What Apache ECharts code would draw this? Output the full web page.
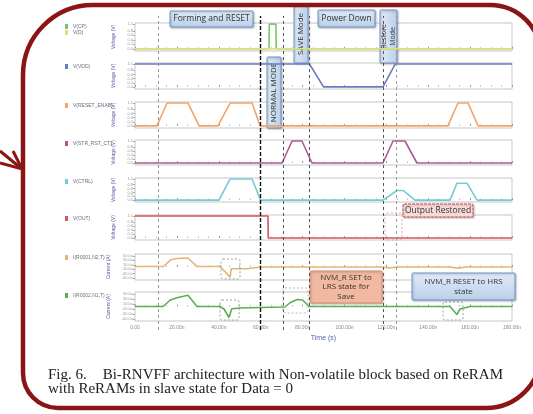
<!DOCTYPE html>
<html>
<head>
<meta charset="utf-8">
<script src="https://cdn.jsdelivr.net/npm/echarts@6/dist/echarts.min.js"></script>
<style>
html, body { margin: 0; padding: 0; background: #fff; }
#main { width: 533px; height: 414px; }
</style>
</head>
<body>
<div id="main"></div>
<script>
// 时间轴 (ns)
var timeMin = 0, timeMax = 180, timeStep = 20;
var voltTicks = [0, 0.2, 0.4, 0.6, 0.8, 1.1];
var currTicks = [-50, -30, -10, 10, 30, 50];

// 各信号波形 [时间, 值]
var vCP = [[0, 0], [64, 0], [64.1, 1.1], [67.3, 1.1], [67.4, 0], [180, 0]];
var vD = [[0, 0], [180, 0]];
var vVDD = [[0, 1.1], [83.3, 1.1], [90, 0], [118.4, 0], [124.2, 1.1], [180, 1.1]];
var vReset = [[0, 0], [10.5, 0], [15.3, 1.1], [25.3, 1.1], [30.6, 0], [39.6, 0], [45.4, 1.1], [55.9, 1.1], [59.7, 0],
  [149.4, 0], [154.2, 1.1], [159, 1.1], [163.8, 0], [180, 0]];
var vStr = [[0, 0], [70.2, 0], [75, 1.1], [79.7, 1.1], [84.5, 0], [118.4, 0], [123.2, 1.1], [128.9, 1.1], [134.6, 0], [180, 0]];
var vCtrl = [[0, 0], [40.1, 0], [45.4, 1.1], [55.9, 1.1], [59.9, 0], [118.4, 0], [125.1, 0.5], [128, 0.5], [133.7, 0],
  [150.4, 0], [153.7, 0.88], [158.5, 0.88], [163.3, 0], [180, 0]];
var vOut = [[0, 1.1], [63.5, 1.1], [63.6, 0], [180, 0]];
var iR1 = [[0, 2], [13.4, 2], [15, 14], [17, 32], [20, 38], [25.3, 40], [29.6, 2], [40.6, 2], [45.4, -45], [46, -8],
  [53.5, -8], [60, 0], [118, 0], [121, -4], [126, 0], [150, 0], [154, -5], [158, 0], [180, 0]];
var iR2 = [[0, 0], [13.4, 0], [16.7, 25], [20, 35], [25.3, 45], [29.6, 0], [40.6, 0], [42.5, -10], [44.9, -44], [46.2, -9],
  [50, -6], [60, -4], [71.6, -2], [74, 15], [77.4, 28], [80, 26], [83.1, 0], [150.4, 0], [153.7, -32], [155.2, -10],
  [160, 0], [180, 0]];

// 模式切换的竖虚线位置
var phaseTimes = [11, 59.7, 70.9, 83.1, 118.4, 124.6];

var panels = [
  { names: ["V(CP)", "V(D)"], data: [vCP, vD], colors: ["#7cc46f", "#e3e07a"], kind: "v" },
  { names: ["V(VDD)"], data: [vVDD], colors: ["#6a7cc0"], kind: "v" },
  { names: ["V(RESET_ENAB)"], data: [vReset], colors: ["#f4a466"], kind: "v" },
  { names: ["V(STR_RST_CT)"], data: [vStr], colors: ["#ad5a92"], kind: "v" },
  { names: ["V(CTRL)"], data: [vCtrl], colors: ["#72cbd6"], kind: "v" },
  { names: ["V(OUT)"], data: [vOut], colors: ["#cf5858"], kind: "v" },
  { names: ["I(R0001,N2,T)"], data: [iR1], colors: ["#e2b676"], kind: "i" },
  { names: ["I(R0002,N1,T)"], data: [iR2], colors: ["#5cae55"], kind: "i" }
];

var tops = [23, 63, 102, 140, 178, 215, 254, 292];
var heights = [28, 26, 26, 25, 24, 25, 26, 29];

var myChart = echarts.init(document.getElementById("main"));

var grid = [], xAxis = [], yAxis = [], series = [], legend = [];
panels.forEach(function (p, i) {
  var last = i === panels.length - 1;
  grid.push({ left: 135, right: 21, top: tops[i], height: heights[i], show: true, borderColor: "#c6c6c6", borderWidth: 1 });
  xAxis.push({
    type: "value", gridIndex: i, min: timeMin, max: timeMax, interval: timeStep,
    axisLine: { show: false },
    splitLine: { show: false },
    axisTick: { show: true, inside: true, length: 2, lineStyle: { color: "#999" } },
    minorTick: { show: true, splitNumber: 4, length: 1.5, lineStyle: { color: "#bbb" } },
    axisLabel: {
      show: last, fontSize: 5, color: "#888", margin: 4,
      formatter: function (v) { return v === 0 ? "0.00" : v.toFixed(2) + "n"; }
    },
    name: last ? "Time (s)" : "",
    nameLocation: "middle", nameGap: 14,
    nameTextStyle: { fontSize: 7, color: "#5a62b0" }
  });
  var ticks = p.kind === "v" ? voltTicks : currTicks;
  yAxis.push({
    type: "value", gridIndex: i,
    min: p.kind === "v" ? -0.1 : -58,
    max: p.kind === "v" ? 1.15 : 58,
    axisLine: { show: false },
    splitLine: { show: false },
    axisTick: { show: true, length: 2, customValues: ticks, lineStyle: { color: "#aaa" } },
    axisLabel: {
      fontSize: 4, color: "#999", margin: 2, customValues: ticks,
      formatter: function (v) { return p.kind === "v" ? v.toFixed(1) : v.toFixed(1) + "u"; }
    },
    name: p.kind === "v" ? "Voltage (V)" : "Current (A)",
    nameLocation: "middle", nameGap: 16,
    nameTextStyle: { fontSize: 5, color: "#5a5ea8" }
  });
  legend.push({
    left: 60, top: tops[i] - 4, orient: "vertical", icon: "rect",
    itemWidth: 3, itemHeight: 5, itemGap: 1,
    data: p.names,
    textStyle: { fontSize: 5, color: "#6a6a80" }
  });
  p.names.forEach(function (n, j) {
    series.push({
      name: n, type: "line", xAxisIndex: i, yAxisIndex: i,
      data: p.data[j], symbol: "none",
      lineStyle: { width: 1.6, color: p.colors[j] },
      itemStyle: { color: p.colors[j] }
    });
  });
});

// 覆盖层: 贯穿全部面板的竖虚线
grid.push({ left: 135, right: 21, top: 16, height: 314, show: false });
xAxis.push({ type: "value", gridIndex: 8, min: timeMin, max: timeMax, show: false });
yAxis.push({ type: "value", gridIndex: 8, min: 0, max: 1, show: false });
series.push({
  type: "line", xAxisIndex: 8, yAxisIndex: 8, data: [[0, -1]], symbol: "none", silent: true,
  lineStyle: { opacity: 0 },
  markLine: {
    silent: true, symbol: "none", label: { show: false },
    data: phaseTimes.map(function (t, k) {
      return {
        xAxis: t,
        lineStyle: k === 1
          ? { color: "#111", type: [4, 2], width: 1.4 }
          : { color: k === 0 || k === 5 ? "#999" : "#555", type: [3, 3], width: 1 }
      };
    })
  }
});

// 说明框
function box(x, y, w, h, text, fill, stroke, rot, fs, dash) {
  return {
    type: "group", x: x, y: y, z: 100,
    children: [
      { type: "rect", shape: { x: 0, y: 0, width: w, height: h, r: 1 },
        style: { fill: fill, stroke: stroke, lineWidth: 1, lineDash: dash || null,
          shadowBlur: 2, shadowColor: "rgba(0,0,0,0.25)", shadowOffsetX: 1, shadowOffsetY: 1 } },
      { type: "text", x: w / 2, y: h / 2, rotation: rot ? Math.PI / 2 : 0,
        style: { text: text, align: "center", verticalAlign: "middle", fill: "#333",
          font: (fs || 8.5) + "px 'Open Sans'", lineHeight: (fs || 8.5) + 1.5 } }
    ]
  };
}
function dashBox(x, y, w, h, color) {
  return { type: "rect", z: 90, shape: { x: x, y: y, width: w, height: h, r: 2 },
    style: { fill: "none", stroke: color || "#888", lineWidth: 0.8, lineDash: [2, 2] } };
}

var blueFill = new echarts.graphic.LinearGradient(0, 0, 0, 1, [
  { offset: 0, color: "#e2ecf8" }, { offset: 1, color: "#b9cfe9" }]);
var blueFillV = new echarts.graphic.LinearGradient(0, 0, 1, 0, [
  { offset: 0, color: "#e2ecf8" }, { offset: 1, color: "#b9cfe9" }]);

var captionFont = "15px 'Liberation Serif'";
var graphic = [
  { type: "rect", z: 80, shape: { x: 23, y: 5, width: 518, height: 403, r: [70, 51, 55, 35] },
    style: { fill: "none", stroke: "#8b1515", lineWidth: 4.5 } },
  { type: "polyline", z: 80, shape: { points: [[0, 151], [22, 169]] }, style: { stroke: "#8b1515", lineWidth: 3, fill: "none" } },
  { type: "polyline", z: 80, shape: { points: [[13, 151], [22, 169], [0, 163]] }, style: { stroke: "#8b1515", lineWidth: 3, fill: "none" } },
  box(170, 11, 83, 16, "Forming and RESET", blueFill, "#6f93c6"),
  box(318, 10, 57, 17, "Power Down", blueFill, "#6f93c6"),
  box(294, 5, 14, 58, "SAVE Mode", blueFillV, "#6f93c6", true, 8),
  box(380, 10, 17, 53, "Restore\nMode", blueFillV, "#6f93c6", true, 7),
  box(267, 57, 14, 71, "NORMAL MODE", blueFillV, "#6f93c6", true, 8),
  box(403, 204, 70, 13, "Output Restored", "#f7dada", "#c84848", false, 8.5, [3, 1]),
  box(310, 271, 72, 32, "NVM_R SET to\nLRS state for\nSave", "#f2b9a2", "#e08a6a", false, 8),
  box(412, 273, 103, 27, "NVM_R RESET to HRS\nstate", blueFill, "#6f93c6", false, 8),
  dashBox(221, 259, 19, 20),
  dashBox(220, 300, 19, 20),
  dashBox(283, 288, 25, 25, "#aaa"),
  dashBox(443, 302, 20, 18),
  dashBox(385, 213, 17, 27, "#e09090"),
  { type: "text", z: 100, x: 48, y: 368,
    style: { text: "Fig. 6.", font: captionFont, fill: "#222" } },
  { type: "text", z: 100, x: 503, y: 368,
    style: { text: "Bi-RNVFF architecture with Non-volatile block based on ReRAM", font: captionFont, fill: "#222", align: "right" } },
  { type: "text", z: 100, x: 48, y: 382,
    style: { text: "with ReRAMs in slave state for Data = 0", font: captionFont, fill: "#222" } }
];

var option = {
  backgroundColor: "#fff",
  animation: false,
  legend: legend,
  grid: grid,
  xAxis: xAxis,
  yAxis: yAxis,
  series: series,
  graphic: graphic
};
myChart.setOption(option);
window.addEventListener("resize", function () {
  myChart.resize();
});
</script>
</body>
</html>
